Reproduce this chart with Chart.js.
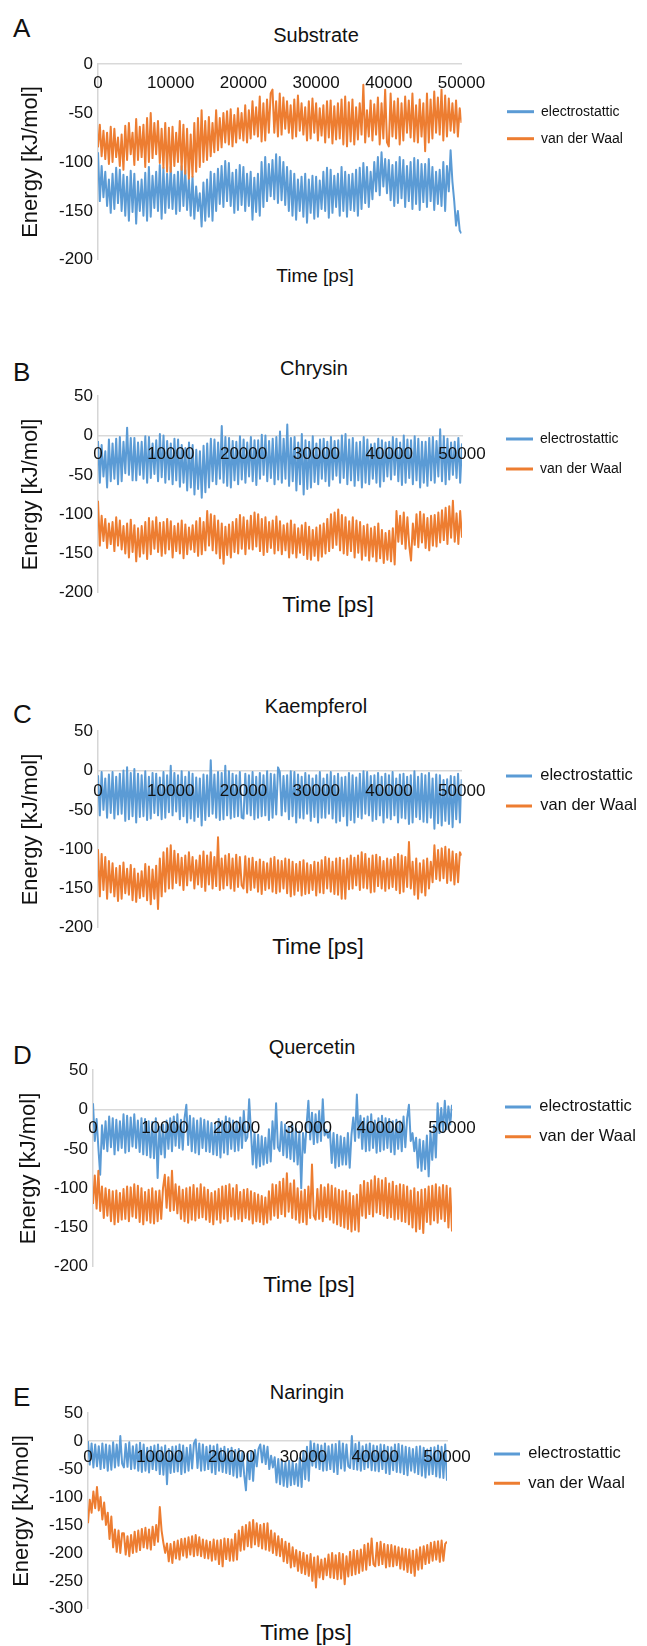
<!DOCTYPE html>
<html><head><meta charset="utf-8">
<script src="https://cdn.jsdelivr.net/npm/chart.js@4.4.0/dist/chart.umd.min.js"></script>
<style>
html,body{margin:0;padding:0;background:#fff;}
body{width:647px;height:1646px;position:relative;overflow:hidden;font-family:'Liberation Sans',Arial,sans-serif;color:#111;}
.box{position:absolute;left:0;width:647px;}
.t{position:absolute;white-space:nowrap;line-height:1;transform:translate(-50%,-50%);}
.L{position:absolute;left:13px;font-size:26px;line-height:1;white-space:nowrap;transform:translateY(-50%);}
</style></head><body>
<script>
// ---------- data ----------
const seriesNames = ['electrostattic', 'van der Waal'];
const panelLetters = ['A', 'B', 'C', 'D', 'E'];
const panelTitles = ['Substrate', 'Chrysin', 'Kaempferol', 'Quercetin', 'Naringin'];
const xTitle = 'Time [ps]';
const yTitle = 'Energy [kJ/mol]';
const times = [
0,250,500,750,1000,1250,1500,1750,2000,2250,2500,2750,3000,3250,3500,3750,4000,4250,4500,4750,
5000,5250,5500,5750,6000,6250,6500,6750,7000,7250,7500,7750,8000,8250,8500,8750,9000,9250,9500,9750,
10000,10250,10500,10750,11000,11250,11500,11750,12000,12250,12500,12750,13000,13250,13500,13750,14000,14250,14500,14750,
15000,15250,15500,15750,16000,16250,16500,16750,17000,17250,17500,17750,18000,18250,18500,18750,19000,19250,19500,19750,
20000,20250,20500,20750,21000,21250,21500,21750,22000,22250,22500,22750,23000,23250,23500,23750,24000,24250,24500,24750,
25000,25250,25500,25750,26000,26250,26500,26750,27000,27250,27500,27750,28000,28250,28500,28750,29000,29250,29500,29750,
30000,30250,30500,30750,31000,31250,31500,31750,32000,32250,32500,32750,33000,33250,33500,33750,34000,34250,34500,34750,
35000,35250,35500,35750,36000,36250,36500,36750,37000,37250,37500,37750,38000,38250,38500,38750,39000,39250,39500,39750,
40000,40250,40500,40750,41000,41250,41500,41750,42000,42250,42500,42750,43000,43250,43500,43750,44000,44250,44500,44750,
45000,45250,45500,45750,46000,46250,46500,46750,47000,47250,47500,47750,48000,48250,48500,48750,49000,49250,49500,49750,
50000];
const xTicks = [0, 10000, 20000, 30000, 40000, 50000];
const yTicksA = [0, -50, -100, -150, -200];
const yTicksB = [50, 0, -50, -100, -150, -200];
const yTicksC = [50, 0, -50, -100, -150, -200];
const yTicksD = [50, 0, -50, -100, -150, -200];
const yTicksE = [50, 0, -50, -100, -150, -200, -250, -300];

// Substrate
const eleA = [
-90,-140,-104,-136,-110,-145,-118,-152,-112,-148,-106,-142,-108,-150,-113,-155,-115,-160,-109,-151,
-112,-163,-120,-150,-118,-155,-111,-160,-105,-156,-114,-147,-110,-150,-103,-158,-106,-152,-112,-147,
-105,-148,-113,-153,-110,-150,-104,-145,-108,-149,-117,-155,-115,-158,-125,-150,-132,-166,-121,-160,
-118,-156,-110,-160,-112,-150,-107,-143,-104,-146,-99,-140,-101,-145,-111,-152,-108,-149,-103,-144,
-105,-150,-112,-145,-110,-159,-116,-151,-112,-155,-100,-146,-95,-140,-102,-135,-98,-138,-92,-142,
-95,-139,-100,-144,-105,-150,-109,-155,-112,-159,-118,-150,-115,-156,-112,-162,-118,-152,-114,-158,
-115,-156,-119,-148,-110,-150,-106,-157,-108,-152,-114,-146,-112,-155,-105,-150,-110,-156,-113,-149,
-112,-150,-108,-155,-106,-148,-101,-142,-105,-146,-110,-138,-100,-130,-95,-134,-90,-125,-97,-132,
-98,-139,-103,-145,-100,-142,-95,-137,-98,-146,-104,-140,-100,-148,-96,-143,-98,-149,-102,-141,
-102,-146,-97,-140,-105,-149,-110,-143,-108,-145,-100,-150,-104,-130,-88,-120,-140,-165,-150,-170,
-173];
const vdwA = [
-85,-62,-94,-68,-97,-70,-102,-64,-100,-66,-95,-75,-104,-72,-108,-63,-98,-60,-92,-70,
-103,-56,-98,-64,-95,-62,-105,-55,-100,-50,-96,-60,-92,-58,-101,-66,-106,-60,-110,-65,
-110,-64,-104,-70,-100,-58,-108,-62,-112,-66,-117,-72,-115,-60,-110,-55,-105,-47,-100,-58,
-98,-54,-94,-60,-90,-47,-88,-55,-85,-50,-80,-48,-82,-46,-84,-52,-80,-45,-76,-50,
-78,-42,-80,-47,-76,-38,-72,-44,-74,-33,-79,-40,-78,-36,-70,-30,-26,-70,-38,-74,
-30,-72,-34,-66,-38,-70,-42,-76,-36,-74,-32,-68,-40,-72,-44,-78,-38,-76,-35,-70,
-40,-78,-45,-73,-42,-80,-38,-75,-37,-81,-43,-77,-40,-76,-36,-82,-33,-84,-39,-79,
-36,-82,-44,-77,-40,-72,-21,-80,-47,-74,-37,-78,-41,-72,-34,-82,-40,-76,-26,-80,
-84,-30,-74,-38,-76,-35,-82,-40,-78,-33,-70,-37,-75,-30,-79,-42,-80,-36,-74,-40,
-89,-30,-80,-36,-76,-28,-70,-34,-72,-26,-78,-32,-74,-35,-68,-40,-70,-37,-74,-45,
-60];

// Chrysin
const eleB = [
-7,-60,-12,-52,-20,-66,-5,-58,-10,-55,-4,-62,-2,-58,-8,-48,10,-50,-3,-57,
-3,-57,-9,-50,-8,-55,-1,-60,-2,-54,-10,-49,-6,-58,2,-53,0,-60,-7,-56,
-10,-62,-4,-57,-5,-65,-12,-60,-16,-70,-9,-66,-12,-75,-18,-68,-20,-79,-13,-72,
-10,-66,-4,-58,-5,-62,-9,-55,12,-60,-2,-64,-3,-66,-7,-57,-8,-62,-1,-56,
-5,-60,-9,-52,-2,-58,-6,-63,-6,-55,1,-50,0,-58,-7,-54,-4,-62,-2,-56,
5,-60,-4,-55,14,-64,-3,-58,-2,-70,-9,-62,2,-75,-6,-68,-8,-66,-1,-59,
-10,-62,-5,-55,-4,-58,-8,-64,-2,-56,-7,-51,-6,-60,0,-54,2,-62,-5,-57,
-3,-64,-9,-57,-8,-66,-2,-60,-5,-62,-11,-55,-10,-60,-4,-65,-6,-58,-9,-52,
-8,-56,-2,-50,-4,-58,-9,-63,0,-60,-5,-54,-6,-62,-1,-57,-4,-66,-8,-60,
-8,-64,-3,-57,-2,-60,-7,-52,8,-58,-1,-62,-4,-56,-9,-50,-8,-54,-3,-60,
-10];
const vdwB = [
-83,-140,-102,-134,-106,-143,-112,-138,-110,-147,-104,-140,-108,-145,-115,-150,-112,-155,-107,-148,
-114,-160,-118,-154,-115,-150,-110,-157,-105,-151,-109,-144,-104,-148,-111,-153,-110,-150,-106,-145,
-109,-155,-115,-147,-112,-150,-108,-156,-113,-151,-117,-145,-114,-148,-109,-153,-105,-151,-110,-146,
-96,-140,-100,-146,-102,-150,-108,-156,-112,-163,-116,-152,-113,-155,-110,-148,-106,-150,-101,-144,
-104,-151,-108,-144,-102,-145,-98,-141,-100,-147,-106,-152,-104,-148,-110,-143,-108,-150,-103,-146,
-109,-151,-114,-146,-112,-155,-108,-150,-113,-155,-118,-149,-114,-152,-111,-157,-116,-158,-120,-153,
-117,-159,-114,-154,-112,-150,-106,-147,-100,-143,-98,-139,-94,-146,-101,-150,-104,-152,-109,-147,
-104,-155,-108,-149,-110,-158,-115,-153,-113,-159,-118,-154,-116,-160,-112,-156,-120,-162,-124,-158,
-121,-160,-118,-164,-96,-135,-102,-138,-98,-144,-104,-140,-159,-112,-139,-100,-142,-97,-136,-100,
-143,-105,-146,-102,-140,-101,-141,-98,-136,-95,-133,-92,-138,-90,-130,-83,-135,-99,-138,-96,
-130];

// Kaempferol
const eleC = [
-6,-57,-2,-50,-10,-60,-5,-54,-2,-61,-8,-56,-4,-55,0,-64,4,-62,-3,-58,
2,-66,-4,-59,-6,-58,-1,-63,-8,-61,-3,-54,-4,-57,-9,-62,-2,-60,-6,-53,
6,-57,-3,-52,-6,-62,-1,-58,-8,-66,-2,-61,-4,-64,-9,-59,-10,-70,-5,-63,
-6,-58,13,-55,-5,-60,-2,-63,-3,-62,6,-57,-1,-61,-4,-59,-6,-58,-2,-60,
-61,-4,-55,-6,-57,-2,-62,-8,-60,-3,-58,-6,-57,-1,-63,-4,-60,-5,-56,4,
-2,-57,-7,-52,-6,-62,-1,-58,-2,-66,-5,-60,-8,-61,-3,-55,-6,-64,-10,-59,
-6,-66,-2,-60,-10,-60,-5,-55,-2,-61,-7,-66,-4,-64,-9,-58,-8,-70,-3,-63,
-6,-66,-9,-59,-4,-61,-1,-55,-2,-57,-7,-64,-6,-62,-3,-57,-8,-66,-4,-60,
-6,-62,-2,-57,-10,-66,-5,-60,-4,-61,-8,-68,-6,-66,-1,-59,-8,-62,-4,-65,
-6,-66,-3,-60,-10,-74,-5,-67,-6,-70,-12,-64,-11,-68,-7,-72,-8,-62,-4,-66,
-11];
const vdwC = [
-100,-160,-106,-152,-110,-163,-115,-155,-118,-160,-124,-166,-121,-163,-117,-156,-125,-158,-120,-165,
-125,-167,-131,-162,-128,-160,-119,-165,-122,-170,-126,-163,-121,-176,-112,-160,-104,-154,-99,-150,
-95,-150,-102,-143,-106,-146,-111,-152,-108,-146,-104,-140,-110,-150,-114,-145,-108,-148,-103,-153,
-108,-145,-104,-150,-110,-147,-85,-152,-112,-150,-108,-146,-106,-150,-112,-153,-107,-148,-110,-146,
-150,-109,-155,-112,-152,-111,-149,-116,-154,-113,-157,-116,-152,-118,-150,-112,-154,-110,-156,-114,
-154,-115,-150,-112,-156,-113,-160,-116,-158,-119,-153,-116,-159,-114,-157,-118,-156,-120,-152,-116,
-159,-117,-155,-114,-156,-110,-150,-112,-154,-116,-157,-112,-158,-111,-163,-114,-163,-112,-151,-108,
-150,-111,-146,-108,-152,-104,-149,-106,-150,-112,-155,-108,-154,-107,-147,-110,-150,-115,-153,-112,
-150,-113,-148,-110,-152,-106,-156,-108,-154,-110,-148,-91,-150,-116,-158,-112,-163,-118,-155,-114,
-159,-112,-150,-116,-142,-95,-138,-101,-140,-99,-137,-97,-143,-100,-140,-103,-145,-106,-142,-104,
-108];

// Quercetin
const eleD = [
8,-40,-12,-49,-83,-20,-50,-15,-53,-9,-48,-11,-57,-13,-52,-15,-49,-6,-55,-8,
-53,-10,-47,-6,-49,-14,-54,-11,-57,-12,-58,-15,-61,-16,-62,-11,-87,-22,-57,-19,
-61,-14,-50,-11,-53,-9,-46,-6,-49,-13,-51,-11,6,-45,-8,-53,-11,-55,-14,-57,
-11,-49,-13,-53,-15,-54,-17,-57,-19,-58,-12,-61,-15,-55,-9,-57,-11,-50,-14,-53,
-15,-52,-10,-49,-2,-40,-35,13,-28,-70,-30,-74,-32,-72,-34,-70,-36,-68,-25,-66,
-15,-50,8,-48,-53,-16,-58,-19,-61,-22,-63,-19,-66,-24,-70,-28,-100,-30,-55,-19,
11,-38,-4,-44,-6,-42,-2,-40,13,-33,-26,-36,-28,-68,-30,-74,-32,-72,-34,-70,
-36,-70,-30,-74,-32,-10,-40,19,-36,-8,-50,-11,-53,-9,-52,-6,-49,-14,-55,-11,
-53,-8,-51,-11,-49,-12,-54,-15,-57,-13,-50,-15,-53,-9,-48,-11,6,-40,-30,-53,
-36,-74,-38,-78,-40,-76,-33,-85,-28,-64,-20,-61,8,-30,2,-28,11,-25,4,-19,
6];
const vdwD = [
-120,-84,-126,-78,-129,-98,-138,-100,-135,-102,-142,-104,-146,-103,-143,-106,-140,-101,-139,-98,
-142,-99,-136,-95,-138,-97,-143,-100,-146,-105,-141,-102,-144,-100,-145,-104,-142,-103,-139,-100,
-83,-125,-86,-129,-78,-128,-95,-132,-98,-139,-102,-142,-100,-144,-99,-140,-96,-141,-100,-138,
-95,-137,-99,-140,-102,-143,-106,-146,-104,-140,-101,-144,-98,-139,-97,-142,-95,-136,-100,-140,
-96,-139,-105,-142,-102,-138,-101,-140,-104,-145,-106,-142,-108,-143,-110,-146,-112,-144,-104,-140,
-95,-135,-96,-138,-92,-133,-88,-136,-81,-130,-94,-138,-90,-140,-100,-144,-104,-143,-102,-146,
-98,-138,-70,-135,-140,-101,-139,-96,-142,-99,-137,-95,-140,-97,-144,-100,-146,-102,-148,-104,
-150,-103,-152,-106,-155,-110,-153,-108,-155,-96,-135,-91,-138,-93,-133,-90,-136,-85,-131,-88,
-133,-90,-135,-87,-138,-94,-137,-92,-140,-97,-139,-95,-142,-96,-143,-98,-146,-103,-150,-100,
-155,-105,-152,-102,-157,-101,-143,-98,-146,-97,-141,-95,-144,-99,-139,-96,-142,-97,-150,-100,
-155];

// Naringin
const eleE = [
0,-42,-4,-47,-6,-45,-9,-50,-4,-48,-6,-53,-8,-51,-2,-47,-6,-44,9,-40,
-47,-5,-46,-2,-50,-9,-49,-6,-53,-3,-55,-6,-53,-12,-56,-10,-50,-8,-52,-6,
-59,-11,-60,-8,-77,-14,-57,-10,-55,-9,-54,-6,-59,-8,-56,-12,-53,-7,-49,-4,
3,-48,-4,-53,-6,-52,-10,-50,-8,-56,-9,-59,-6,-53,-13,-55,-10,-57,-14,-59,
-12,-62,-16,-65,-14,-63,-20,-60,-88,-22,-68,-18,-71,-16,-45,-14,-6,-38,-8,-41,
-10,-50,-26,-47,-29,-74,-32,-77,-35,-80,-38,-82,-35,-79,-37,-77,-41,-80,-30,-82,
-18,-68,-10,-71,0,-44,-4,-47,-6,-50,-8,-53,-4,-52,-9,-50,-6,-55,-5,-59,
0,-49,-4,-53,-6,-45,-48,9,-50,-5,-51,-2,-53,-9,-50,-6,-47,-4,-52,-8,
-53,-9,-54,-6,-50,-7,-57,-10,-59,-11,-52,-6,-55,-5,-56,-8,-59,-10,-61,-12,
-53,-14,-56,-10,-59,-9,-62,-12,-65,-15,-60,-12,-59,-11,-63,-8,-65,-10,-66,-6,
-71];
const vdwE = [
-147,-105,-128,-90,-120,-82,-124,-100,-140,-110,-150,-128,-175,-135,-190,-158,-198,-160,-200,-165,
-165,-203,-170,-206,-168,-200,-162,-198,-160,-195,-157,-190,-155,-192,-158,-194,-153,-186,-150,-180,
-118,-160,-182,-200,-183,-215,-184,-218,-180,-210,-178,-212,-175,-205,-174,-208,-172,-203,-170,-206,
-168,-204,-172,-206,-176,-209,-178,-210,-180,-214,-176,-212,-178,-220,-177,-224,-174,-211,-175,-214,
-176,-214,-166,-212,-160,-196,-153,-194,-150,-188,-145,-190,-141,-185,-147,-188,-150,-192,-148,-194,
-147,-196,-160,-200,-165,-204,-170,-206,-175,-215,-180,-218,-183,-226,-190,-224,-195,-232,-198,-236,
-200,-238,-204,-241,-202,-250,-208,-262,-206,-244,-212,-247,-210,-240,-203,-244,-200,-245,-204,-247,
-200,-246,-202,-256,-206,-242,-198,-240,-195,-238,-196,-236,-194,-232,-186,-230,-183,-222,-174,-220,
-224,-182,-222,-180,-220,-184,-226,-186,-224,-186,-224,-188,-222,-190,-228,-192,-230,-193,-234,-194,
-236,-196,-241,-194,-230,-190,-228,-188,-220,-186,-218,-182,-214,-180,-212,-179,-216,-178,-214,-184,
-180];

// ---------- layout / style ----------
const BLUE = '#5b9bd5', ORANGE = '#ed7d31';
const W = 647;
// R: plot right edge, S: legend item start x, lp: legend item padding
const panels = [
  {ele: eleA, vdw: vdwA, yT: yTicksA, top: 49,   h: 226, left: 98, R: 461.5, S: 507, lf: 14,   bw: 27, lp: 13,   ltp: 26.5, xPad: 8.8,  ytp: 17.8,
   letterY: 27.5, titleX: 316, titleY: 34.5, timeX: 315, timeY: 275, timeF: 19},
  {ele: eleB, vdw: vdwB, yT: yTicksB, top: 381,  h: 227, left: 98, R: 462,   S: 506, lf: 14,   bw: 27, lp: 16,   ltp: 18.8, xPad: 8.5,  ytp: 17.4,
   letterY: 371.5, titleX: 314, titleY: 367.7, timeX: 328, timeY: 605, timeF: 22.5},
  {ele: eleC, vdw: vdwC, yT: yTicksC, top: 716,  h: 227, left: 98, R: 461.7, S: 506, lf: 16.5, bw: 26, lp: 13.5, ltp: 22,   xPad: 10.5, ytp: 17.4,
   letterY: 713.5, titleX: 316, titleY: 706, timeX: 318, timeY: 946.7, timeF: 22.5},
  {ele: eleD, vdw: vdwD, yT: yTicksD, top: 1055, h: 227, left: 93, R: 452,   S: 505, lf: 16.5, bw: 26, lp: 13.2, ltp: 14.3, xPad: 8.2,  ytp: 15.4,
   letterY: 1055, titleX: 312, titleY: 1046.7, timeX: 309, timeY: 1285, timeF: 22.5},
  {ele: eleE, vdw: vdwE, yT: yTicksE, top: 1398, h: 226, left: 88, R: 447,   S: 494, lf: 16.5, bw: 26, lp: 12.8, ltp: 18.7, xPad: 5.8,  ytp: 8.3,
   letterY: 1396.5, titleX: 307, titleY: 1391.7, timeX: 306, timeY: 1632.7, timeF: 22.5}
];

Chart.defaults.font.family = "'Liberation Sans', Arial, sans-serif";
Chart.defaults.color = '#111';

// lets the right-hand legend keep its full width (layout caps side boxes otherwise)
const legendWidthPlugin = {
  id: 'legendWidth',
  beforeLayout(chart, args, opts) {
    const lg = chart.legend;
    if (lg && !lg._wPatched) {
      const orig = lg.fit;
      lg.fit = function () { orig.call(this); this.width = opts.width; };
      lg._wPatched = true;
    }
  }
};

function addText(cls, txt, x, y, size) {
  const d = document.createElement('div');
  d.className = cls; d.textContent = txt;
  if (cls === 't') { d.style.left = x + 'px'; }
  d.style.top = y + 'px';
  if (size) d.style.fontSize = size + 'px';
  document.body.appendChild(d);
}

let bad = [];
panels.forEach((p, i) => {
  if (p.ele.length !== times.length) bad.push(panelLetters[i] + 'e' + p.ele.length);
  if (p.vdw.length !== times.length) bad.push(panelLetters[i] + 'v' + p.vdw.length);
  addText('L', panelLetters[i], 0, p.letterY);
  addText('t', panelTitles[i], p.titleX, p.titleY, 20);
  addText('t', xTitle, p.timeX, p.timeY, p.timeF);

  const box = document.createElement('div');
  box.className = 'box';
  box.style.top = p.top + 'px';
  box.style.height = p.h + 'px';
  const cv = document.createElement('canvas');
  box.appendChild(cv);
  document.body.appendChild(box);

  const yT = p.yT;
  const gap = p.S - p.lp - p.R;
  const legendW = W - (p.S - p.lp);
  new Chart(cv, {
    type: 'line',
    plugins: [legendWidthPlugin],
    data: {
      labels: times,
      datasets: [
        {label: seriesNames[0], data: p.ele, borderColor: BLUE, backgroundColor: BLUE, borderWidth: 2,
         borderJoinStyle: 'round', pointRadius: 0, tension: 0, order: 1, xAxisID: 'x', yAxisID: 'y'},
        {label: seriesNames[1], data: p.vdw, borderColor: ORANGE, backgroundColor: ORANGE, borderWidth: 2,
         borderJoinStyle: 'round', pointRadius: 0, tension: 0, order: 0, xAxisID: 'x', yAxisID: 'y'}
      ]
    },
    options: {
      responsive: true, maintainAspectRatio: false, animation: false,
      layout: {padding: {top: 15, bottom: 15, left: 0, right: 0}},
      plugins: {
        legendWidth: {width: legendW},
        tooltip: {enabled: false},
        title: {display: false},
        legend: {
          position: 'right', align: 'start',
          title: {display: true, text: '', font: {size: 1}, padding: {top: p.ltp, bottom: 0}},
          labels: {
            boxWidth: p.bw, boxHeight: 3, padding: p.lp, color: '#111', font: {size: p.lf},
            sort: (a, b) => a.datasetIndex - b.datasetIndex,
            generateLabels: (c) => Chart.defaults.plugins.legend.labels.generateLabels(c).map(it => Object.assign(it, {lineWidth: 0}))
          }
        }
      },
      scales: {
        x: {
          type: 'linear', min: xTicks[0], max: xTicks[xTicks.length - 1], position: {y: 0},
          grid: {display: false, drawTicks: false},
          border: {display: true, color: '#d9d9d9', width: 1.5},
          afterBuildTicks: (s) => { s.ticks = xTicks.map(v => ({value: v})); },
          ticks: {z: 1, padding: p.xPad, maxRotation: 0, autoSkip: false, color: '#111', font: {size: 17}, callback: (v) => String(v)}
        },
        y: {
          type: 'linear', position: 'left', min: Math.min(...yT), max: Math.max(...yT),
          grid: {display: false, drawTicks: false},
          border: {display: true, color: '#d6d6d6', width: 1.5},
          afterBuildTicks: (s) => { s.ticks = yT.map(v => ({value: v})); },
          ticks: {padding: 5, color: '#111', font: {size: 17}, callback: (v) => String(v)},
          title: {display: true, text: yTitle, color: '#111', font: {size: 22}, padding: {top: p.ytp, bottom: 0}},
          afterFit: (s) => { s.width = p.left; }
        },
        gap: {
          type: 'linear', axis: 'y', position: 'right', display: true,
          grid: {display: false, drawTicks: false}, border: {display: false},
          ticks: {display: false},
          afterFit: (s) => { s.width = gap; }
        }
      }
    }
  });
});
if (bad.length) { addText('t', 'LEN ' + bad.join(' '), 320, 320, 14); }
</script>
</body></html>
